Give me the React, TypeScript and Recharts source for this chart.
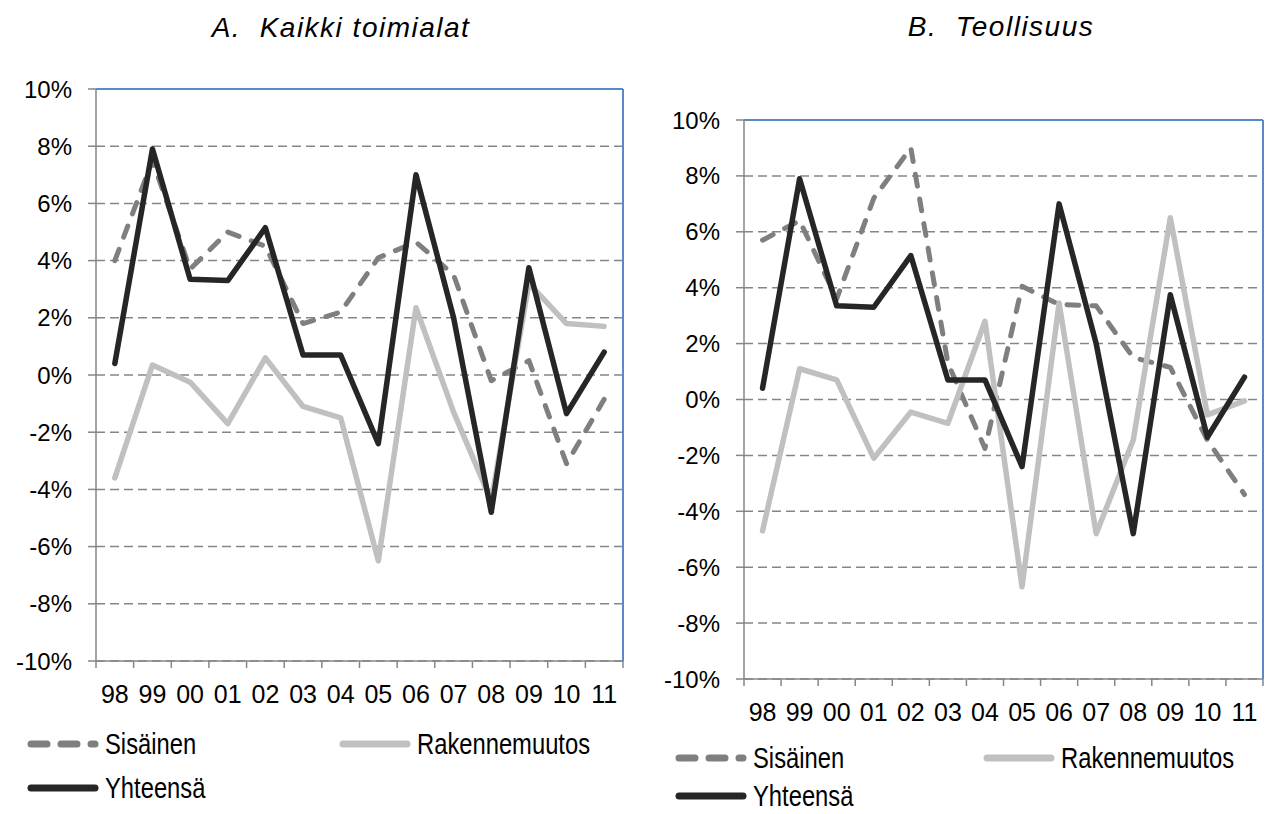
import { LineChart, Line, XAxis, YAxis, CartesianGrid, ReferenceLine } from "recharts";

const years = ["98", "99", "00", "01", "02", "03", "04", "05", "06", "07", "08", "09", "10", "11"];
const yTicks = [-10, -8, -6, -4, -2, 0, 2, 4, 6, 8, 10];

// A. Kaikki toimialat
const sisainenA = [4.0, 7.5, 3.7, 5.0, 4.5, 1.8, 2.2, 4.1, 4.65, 3.5, -0.2, 0.5, -3.1, -0.85];
const rakenneA = [-3.6, 0.35, -0.25, -1.7, 0.6, -1.1, -1.5, -6.5, 2.35, -1.3, -4.4, 3.2, 1.8, 1.7];
const yhteensaA = [0.4, 7.9, 3.35, 3.3, 5.15, 0.7, 0.7, -2.4, 7.0, 2.0, -4.8, 3.75, -1.35, 0.8];

// B. Teollisuus
const sisainenB = [5.7, 6.4, 3.6, 7.2, 9.0, 1.3, -1.75, 4.05, 3.4, 3.35, 1.5, 1.15, -1.45, -3.4];
const rakenneB = [-4.7, 1.1, 0.7, -2.1, -0.45, -0.85, 2.8, -6.7, 3.45, -4.8, -1.45, 6.5, -0.55, -0.05];
const yhteensaB = [0.4, 7.9, 3.35, 3.3, 5.15, 0.7, 0.7, -2.4, 7.0, 2.0, -4.8, 3.75, -1.35, 0.8];

const series = [
  { key: "sis", name: "Sisäinen", color: "#7f7f7f", width: 5, dash: "12 13" },
  { key: "rak", name: "Rakennemuutos", color: "#c0c0c0", width: 5.5, dash: undefined },
  { key: "yht", name: "Yhteensä", color: "#262626", width: 5.5, dash: undefined },
];

const AXIS = "#868686";
const BLUE = "#5b89c8";
const FONT = "'Liberation Sans', Arial, sans-serif";

const build = (s: number[], r: number[], y: number[]) =>
  years.map((yr, i) => ({ year: yr, sis: s[i], rak: r[i], yht: y[i] }));

const dataA = build(sisainenA, rakenneA, yhteensaA);
const dataB = build(sisainenB, rakenneB, yhteensaB);

const makeTick = (bw: number) => (props: any) => {
  const { x, y, payload, index } = props;
  return (
    <g>
      <line x1={x - bw / 2} x2={x - bw / 2} y1={y} y2={y + 7} stroke={AXIS} strokeWidth={1.5} />
      {index === years.length - 1 && (
        <line x1={x + bw / 2} x2={x + bw / 2} y1={y} y2={y + 7} stroke={AXIS} strokeWidth={1.5} />
      )}
      <text x={x} y={y + 42} textAnchor="middle" fontSize={25} fontFamily={FONT} fill="#000">
        {payload.value}
      </text>
    </g>
  );
};

type PanelProps = {
  data: any[];
  left: number;
  width: number;
  height: number;
  top: number;
  axisW: number;
  right: number;
  xH: number;
};

const Panel = ({ data, left, width, height, top, axisW, right, xH }: PanelProps) => {
  const plotW = width - axisW - right - 2;
  const bw = plotW / years.length;
  return (
    <div style={{ position: "absolute", left, top: 0 }}>
      <LineChart width={width} height={height} data={data} margin={{ top, right, bottom: 25, left: 0 }}>
        <CartesianGrid vertical={false} stroke={AXIS} strokeWidth={1.5} strokeDasharray="9 5" />
        <XAxis
          dataKey="year"
          scale="band"
          interval={0}
          height={xH}
          tickSize={0}
          tickMargin={0}
          tickLine={false}
          axisLine={{ stroke: AXIS, strokeWidth: 1.5 }}
          tick={makeTick(bw)}
        />
        <YAxis
          domain={[-10, 10]}
          ticks={yTicks}
          interval={0}
          width={axisW}
          tickSize={8}
          tickMargin={16}
          tickFormatter={(v: number) => `${v}%`}
          tick={{ fontSize: 24, fill: "#000", fontFamily: FONT }}
          axisLine={{ stroke: AXIS, strokeWidth: 1.5 }}
          tickLine={{ stroke: AXIS, strokeWidth: 1.5 }}
        />
        <YAxis
          yAxisId="r"
          orientation="right"
          domain={[-10, 10]}
          width={2}
          tick={false}
          tickLine={false}
          axisLine={{ stroke: BLUE, strokeWidth: 2 }}
        />
        <ReferenceLine y={10} stroke={BLUE} strokeWidth={2} />
        {series.map((s) => (
          <Line
            key={s.key}
            type="linear"
            dataKey={s.key}
            name={s.name}
            stroke={s.color}
            strokeWidth={s.width}
            strokeDasharray={s.dash}
            strokeLinecap="round"
            strokeLinejoin="round"
            dot={false}
            activeDot={false}
            isAnimationActive={false}
          />
        ))}
      </LineChart>
    </div>
  );
};

const LegendItem = ({ s, x, y }: { s: (typeof series)[number]; x: number; y: number }) => (
  <g>
    <line
      x1={x + 4}
      x2={x + 68}
      y1={y}
      y2={y}
      stroke={s.color}
      strokeWidth={7}
      strokeLinecap="round"
      strokeDasharray={s.dash ? "16 14" : undefined}
    />
    <text transform={`translate(${x + 78}, ${y + 10}) scale(0.82, 1)`} fontSize={29} fontFamily={FONT} fill="#000">
      {s.name}
    </text>
  </g>
);

const Overlay = () => (
  <svg width={1269} height={814} style={{ position: "absolute", left: 0, top: 0, pointerEvents: "none" }}>
    <text x={341} y={37} textAnchor="middle" fontSize={28} fontStyle="italic" fontFamily={FONT} letterSpacing={1.5} xmlSpace="preserve">
      {"A.  Kaikki toimialat"}
    </text>
    <text x={1001} y={36} textAnchor="middle" fontSize={28} fontStyle="italic" fontFamily={FONT} letterSpacing={1.5} xmlSpace="preserve">
      {"B.  Teollisuus"}
    </text>
    <LegendItem s={series[0]} x={27} y={744} />
    <LegendItem s={series[1]} x={339} y={744} />
    <LegendItem s={series[2]} x={27} y={788} />
    <LegendItem s={series[0]} x={675} y={758} />
    <LegendItem s={series[1]} x={983} y={758} />
    <LegendItem s={series[2]} x={675} y={796} />
  </svg>
);

export default function App() {
  return (
    <div style={{ position: "absolute", left: 0, top: 0, width: 1269, height: 814, background: "#fff" }}>
      <Panel data={dataA} left={0} width={640} height={725} top={89} axisW={96} right={15} xH={39} />
      <Panel data={dataB} left={640} width={629} height={745} top={120} axisW={104} right={4} xH={41} />
      <Overlay />
    </div>
  );
}
